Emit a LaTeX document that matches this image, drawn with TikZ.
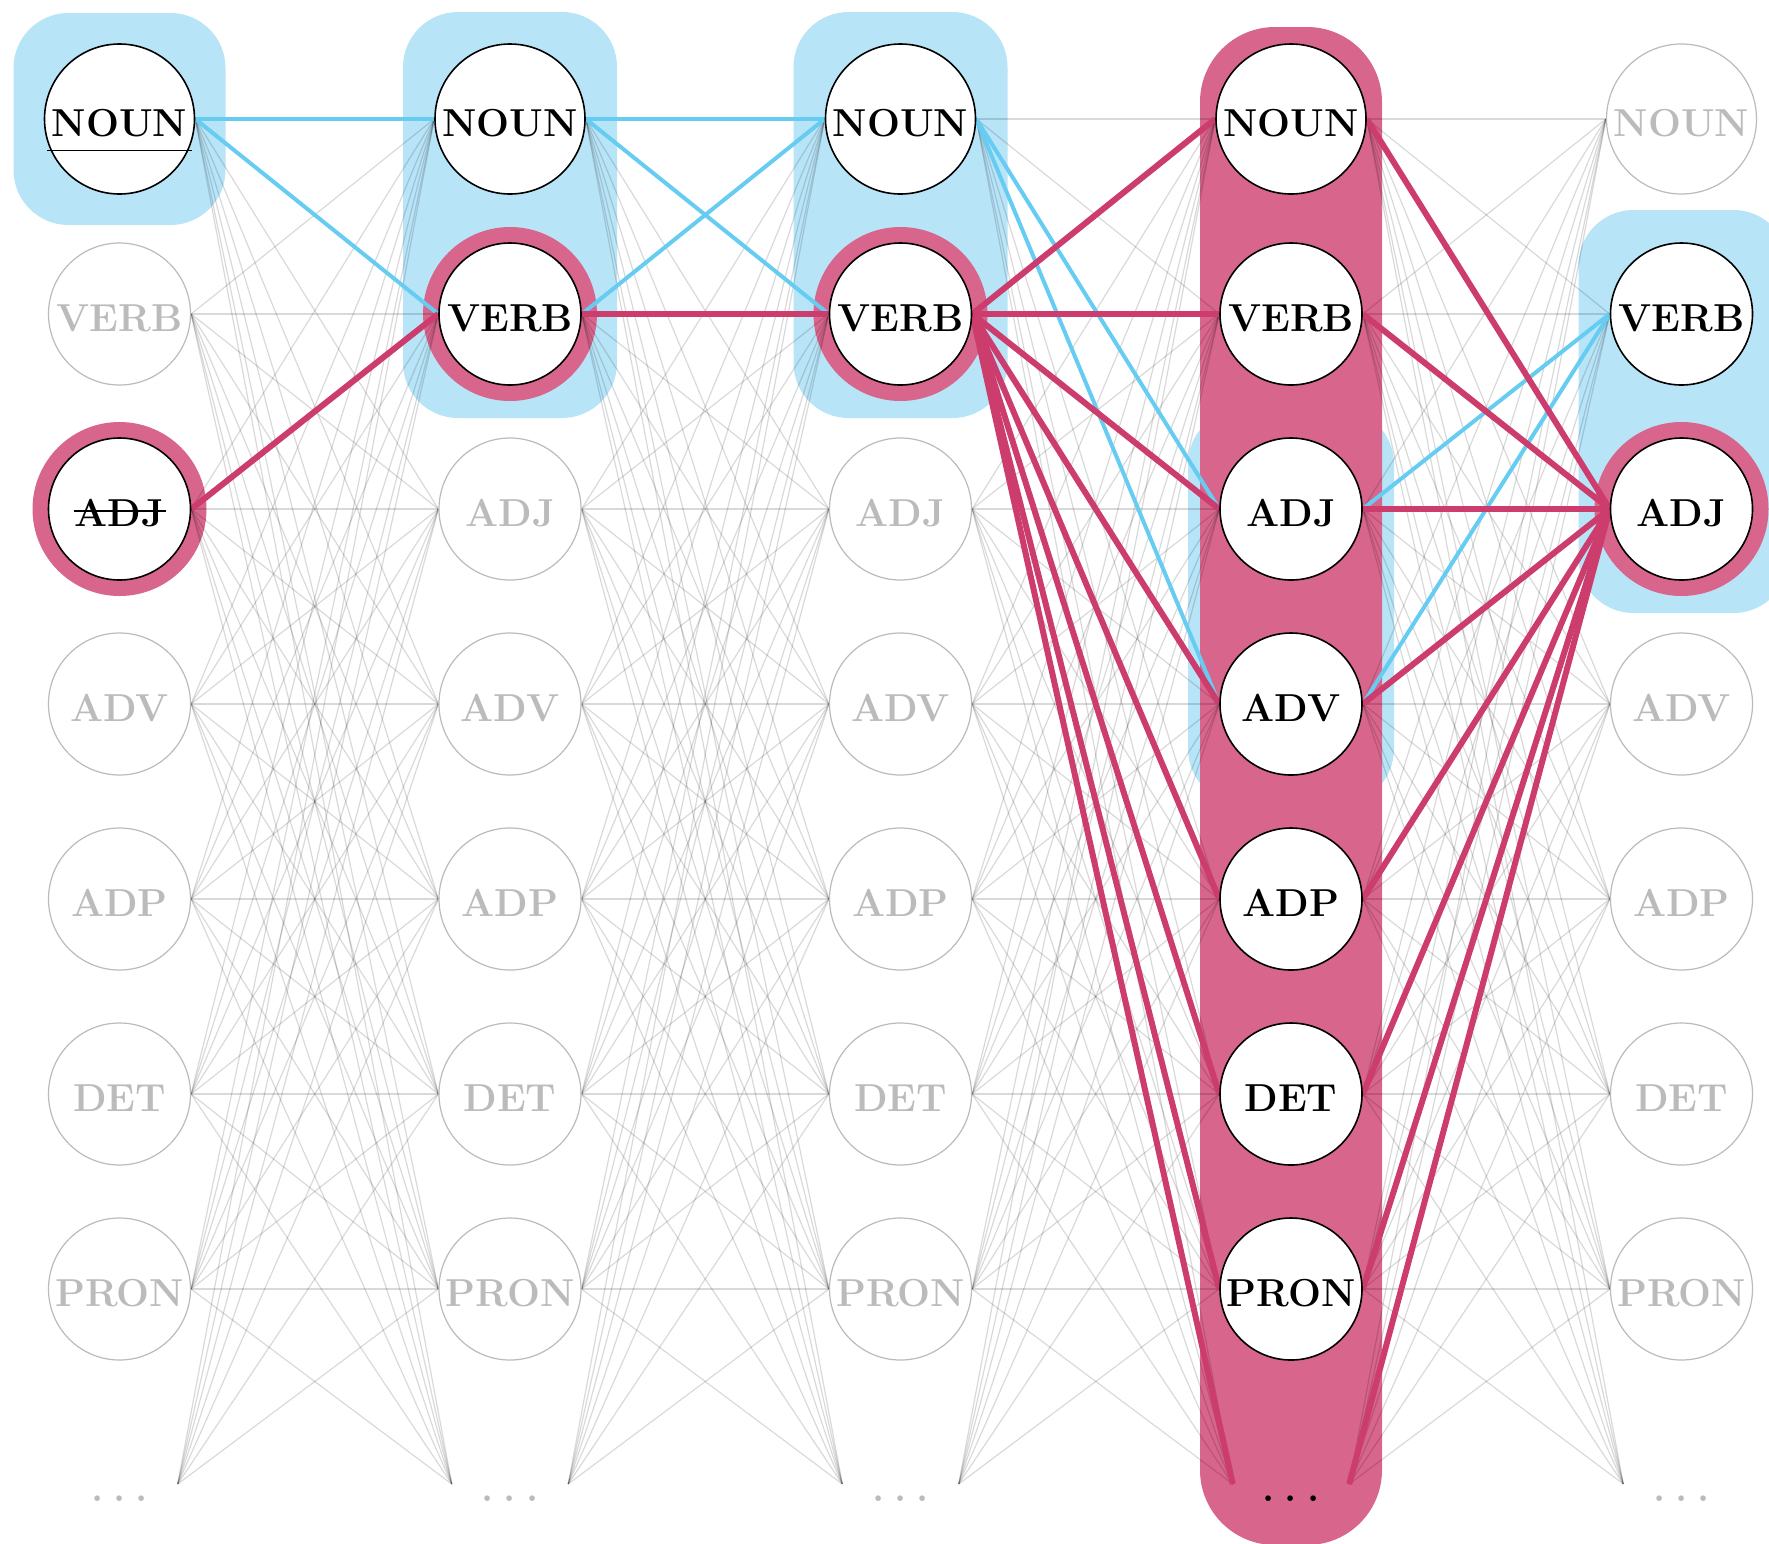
\documentclass[tikz,border=0pt]{standalone}
\usepackage{fontspec}
\setmainfont{Latin Modern Roman}
\definecolor{hlblue}{HTML}{B8E4F8}
\definecolor{lnblue}{HTML}{66CCF2}
\definecolor{hlpink}{HTML}{D8658C}
\definecolor{lnpink}{HTML}{CC3D6D}
\definecolor{tagmute}{HTML}{BBBBBB}
\pgfdeclarelayer{bg}
\pgfdeclarelayer{wires}
\pgfsetlayers{bg,wires,main}
\newcommand\tagfont{\fontsize{39}{42}\selectfont\bfseries}
\newcommand\dotrow{.\hspace{10pt}.\hspace{10pt}.}

\begin{document}
\begin{tikzpicture}[x=1pt,y=-1pt,
  tagbase/.style={circle, inner sep=0pt, minimum size=142pt, fill=white,
    font=\tagfont, text height=35pt, text depth=0pt},
  muted/.style={tagbase, draw=tagmute, line width=1.2pt, text=tagmute},
  live/.style={tagbase, draw=black, line width=1.6pt, text=black},
  mutedN/.style={muted, minimum size=150pt},
  liveN/.style={live, minimum size=150pt},
  dotsbase/.style={rectangle, inner sep=0pt, minimum width=116pt,
    minimum height=20pt, font=\tagfont, text height=35pt, text depth=0pt},
  mdots/.style={dotsbase, text=tagmute},
  ldots/.style={dotsbase, text=black},
  wire/.style={draw=black, draw opacity=0.15, line width=1.2pt},
  bluewire/.style={draw=lnblue, line width=4pt},
  pinkwire/.style={draw=lnpink, line width=6pt},
  bluebox/.style={fill=hlblue, rounded corners=55pt},
  pinkbox/.style={fill=hlpink, rounded corners=75pt},
  tagmark/.style={draw=black, line width=1.5pt}
]
\useasboundingbox (0,0) rectangle (1769,1543);

% trellis of tags: column \c, row \r
\foreach \c/\r/\st/\t in {
  0/1/liveN/NOUN, 0/2/muted/VERB, 0/3/live/ADJ, 0/4/muted/ADV,
  0/5/muted/ADP, 0/6/muted/DET, 0/7/muted/PRON, 0/8/mdots/\dotrow,
  1/1/liveN/NOUN, 1/2/live/VERB, 1/3/muted/ADJ, 1/4/muted/ADV,
  1/5/muted/ADP, 1/6/muted/DET, 1/7/muted/PRON, 1/8/mdots/\dotrow,
  2/1/liveN/NOUN, 2/2/live/VERB, 2/3/muted/ADJ, 2/4/muted/ADV,
  2/5/muted/ADP, 2/6/muted/DET, 2/7/muted/PRON, 2/8/mdots/\dotrow,
  3/1/liveN/NOUN, 3/2/live/VERB, 3/3/live/ADJ, 3/4/live/ADV,
  3/5/live/ADP, 3/6/live/DET, 3/7/live/PRON, 3/8/ldots/\dotrow,
  4/1/mutedN/NOUN, 4/2/live/VERB, 4/3/live/ADJ, 4/4/muted/ADV,
  4/5/muted/ADP, 4/6/muted/DET, 4/7/muted/PRON, 4/8/mdots/\dotrow}
  \node[\st] (n\c-\r) at ({119.5+390.5*\c},{119+195*(\r-1)}) {\t};

% underline and strike-through marks
\draw[tagmark] ([shift={(-72.5,31.5)}]n0-1.center) -- ([shift={(72.5,31.5)}]n0-1.center);
\draw[tagmark] ([shift={(-46,2)}]n0-3.center) -- ([shift={(46,2)}]n0-3.center);

\begin{pgfonlayer}{bg}
  % blue groups
  \fill[bluebox] ([shift={(-106,-106)}]n0-1.center) rectangle ([shift={(106,106)}]n0-1.center);
  \fill[bluebox] ([shift={(-107,-107)}]n1-1.center) rectangle ([shift={(107,104)}]n1-2.center);
  \fill[bluebox] ([shift={(-107,-107)}]n2-1.center) rectangle ([shift={(107,104)}]n2-2.center);
  \fill[bluebox] ([shift={(-103,-100)}]n3-3.center) rectangle ([shift={(103,100)}]n3-4.center);
  \fill[bluebox] ([shift={(-103,-104)}]n4-2.center) rectangle ([shift={(107,104)}]n4-3.center);
  % pink column and rings
  \fill[pinkbox] ([shift={(-91,-92)}]n3-1.center) rectangle ([shift={(91,61)}]n3-8.center);
  \foreach \n in {n0-3,n1-2,n2-2,n4-3}
    \fill[hlpink] (\n.center) circle[radius=87pt];
\end{pgfonlayer}

\begin{pgfonlayer}{wires}
  % every transition between neighbouring columns (the two ellipses are not linked)
  \foreach \c [evaluate=\c as \d using int(\c+1)] in {0,...,3}
    \foreach \i in {1,...,8}
      \foreach \j in {1,...,8}{
        \ifnum\i\j=88\else
          \draw[wire] (n\c-\i.east) -- (n\d-\j.west);
        \fi
      }
  % blue paths
  \foreach \a/\b in {n0-1/n1-1, n0-1/n1-2, n1-1/n2-1, n1-1/n2-2, n1-2/n2-1,
                     n2-1/n3-3, n2-1/n3-4, n3-3/n4-2, n3-4/n4-2}
    \draw[bluewire] (\a.east) -- (\b.west);
  % pink paths
  \foreach \a/\b in {n0-3/n1-2, n1-2/n2-2}
    \draw[pinkwire] (\a.east) -- (\b.west);
  \foreach \j in {1,...,8}{
    \draw[pinkwire] (n2-2.east) -- (n3-\j.west);
    \draw[pinkwire] (n3-\j.east) -- (n4-3.west);
  }
\end{pgfonlayer}
\end{tikzpicture}
\end{document}
